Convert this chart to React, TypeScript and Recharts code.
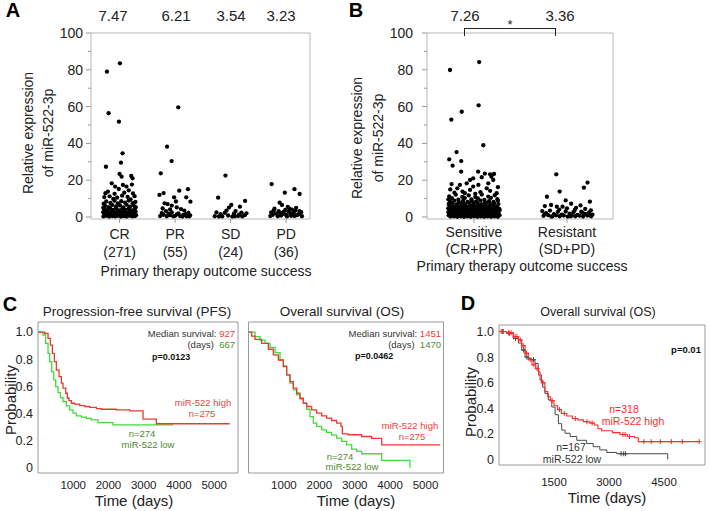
import React from 'react';
import { ScatterChart, Scatter, XAxis, YAxis, ReferenceArea, ComposedChart, Line } from 'recharts';

const FONT = "'Liberation Sans', Arial, sans-serif";

// ---------- Panel A data ----------
const groupsA = ['CR', 'PR', 'SD', 'PD'];
const countsA = ['(271)', '(55)', '(24)', '(36)'];
const meansA = ['7.47', '6.21', '3.54', '3.23'];
// [jitter (-1..1), relative expression]
const crPoints = [
  [-0.76, 79], [0.02, 83.5], [-0.66, 56.4], [-0.04, 51.8], [0.18, 34.6], [0.08, 29.5], [-0.82, 27.3],
  [0.7, 22.3], [0.0, 23.4], [0.12, 21.9], [0.78, 21], [-0.47, 18.3], [-0.27, 16.5], [0.41, 16.5], [0.2, 17.4], [0.74, 17.6],
  [-0.85, 12.9], [-0.7, 13.8], [-0.3, 12.6], [0.28, 13.2], [0.8, 12.8], [0.55, 14.5], [-0.05, 15.2],
  [-0.92, 10.8], [-0.6, 11.2], [-0.15, 10.5], [0.15, 11.6], [0.48, 10.9], [0.9, 11.3], [-0.38, 9.8], [0.66, 9.6],
  [-0.8, 8.4], [-0.55, 7.6], [-0.3, 8.8], [-0.1, 7.4], [0.1, 8.6], [0.33, 7.8], [0.55, 8.9], [0.78, 7.5], [0.95, 8.2], [-0.96, 7.2],
  [-0.88, 6.1], [-0.68, 5.4], [-0.45, 6.5], [-0.22, 5.7], [0.02, 6.3], [0.22, 5.2], [0.42, 6.6], [0.62, 5.6], [0.85, 6.2], [-0.98, 5.0], [0.97, 5.3],
  [-0.93, 4.3], [-0.75, 3.7], [-0.57, 4.6], [-0.38, 3.9], [-0.18, 4.4], [0.0, 3.6], [0.18, 4.7], [0.36, 3.8], [0.55, 4.5], [0.72, 3.6], [0.9, 4.2],
  [-0.98, 2.6], [-0.82, 3.1], [-0.64, 2.3], [-0.48, 2.9], [-0.3, 2.2], [-0.12, 3.0], [0.06, 2.4], [0.26, 3.1], [0.44, 2.2], [0.62, 2.9], [0.8, 2.4], [0.96, 2.9],
  [-0.9, 1.6], [-0.72, 1.1], [-0.55, 1.8], [-0.36, 1.2], [-0.2, 1.7], [-0.02, 1.0], [0.15, 1.6], [0.33, 1.1], [0.5, 1.8], [0.68, 1.2], [0.86, 1.6], [0.99, 1.0],
  [-0.97, 0.3], [-0.8, 0.6], [-0.62, 0.2], [-0.44, 0.5], [-0.27, 0.3], [-0.1, 0.6], [0.08, 0.2], [0.25, 0.5], [0.42, 0.2], [0.6, 0.6], [0.77, 0.3], [0.93, 0.5],
];
const prPoints = [
  [0.19, 59.6], [-0.48, 38.2], [-0.21, 30.4], [-0.86, 23.7], [0.25, 14.3], [0.77, 15.1], [-0.94, 12], [-0.69, 13], [0.67, 10.7],
  [0.92, 8.3], [-0.06, 10.7], [0.05, 8.4], [-0.63, 7.4], [-0.45, 7], [-0.2, 6.2], [0.35, 4.3], [-0.75, 4.6], [-0.55, 3.2],
  [-0.3, 4.1], [0.1, 5.2], [0.55, 3.5], [0.8, 2.2], [-0.9, 0.5], [-0.7, 1.2], [-0.5, 0.4], [-0.3, 1.0], [-0.1, 0.3],
  [0.1, 1.4], [0.3, 0.5], [0.5, 1.1], [0.7, 0.4], [0.9, 0.9], [-0.8, 2.1], [-0.2, 2.5], [0.2, 2.0], [0.45, 0.2], [0.65, 1.6],
  [-0.4, 1.8], [0.0, 0.6], [0.85, 0.3],
];
const sdPoints = [
  [-0.31, 22.5], [-0.75, 10.5], [0.87, 8.7], [0.04, 6.5], [0.56, 5.6], [-0.1, 5.1], [-0.85, 2.5], [-0.6, 1.5],
  [-0.35, 2.2], [-0.15, 0.8], [0.2, 1.8], [0.45, 0.5], [0.65, 2.4], [0.85, 1.0], [-0.95, 0.4], [0.3, 3.2],
  [-0.5, 0.3], [0.1, 0.2], [0.7, 0.3], [-0.7, 0.2], [0.95, 2.0], [0.5, 1.2], [-0.25, 3.5], [0.25, 0.4],
];
const pdPoints = [
  [-0.87, 17.9], [-0.08, 13.2], [0.5, 15.1], [0.81, 12.5], [-0.39, 7.8], [-0.25, 6.5], [0.1, 5.5], [0.35, 4.0], [0.6, 5.0],
  [0.8, 3.2], [-0.7, 4.5], [-0.9, 2.5], [-0.6, 1.8], [-0.45, 3.2], [-0.3, 0.8], [-0.15, 2.8], [0.0, 1.2], [0.15, 3.0],
  [0.3, 0.6], [0.45, 2.2], [0.65, 1.0], [0.9, 2.6], [-0.95, 0.5], [-0.8, 1.2], [-0.5, 0.4], [-0.2, 1.6], [0.05, 0.3],
  [0.25, 1.8], [0.5, 0.5], [0.75, 1.5], [0.95, 0.4], [-0.35, 2.2], [0.55, 3.5], [-0.75, 3.4], [0.2, 4.5], [-0.05, 3.8],
];

// ---------- Panel B data ----------
const groupsB = ['Sensitive', 'Resistant'];
const subB = ['(CR+PR)', '(SD+PD)'];
const meansB = ['7.26', '3.36'];
const sensitivePoints = [
  [-0.92, 79.9], [0.2, 84.2], [-0.87, 52.9], [-0.47, 57.2], [0.18, 60.7], [0.36, 39], [-0.67, 35.3], [-0.95, 31.3], [-0.49, 30.4], [-0.82, 27.9], [-0.49, 24.6], [0.16, 24.6],
  [0.42, 23.6], [0.62, 23.2], [0.77, 23.4], [0.67, 21.9], [0.74, 20.1], [0.3, 21.6], [-0.03, 21], [-0.15, 20.1], [-0.28, 18.3], [-0.86, 17.9], [-0.91, 15], [-0.64, 15.6],
  [-0.44, 13.8], [-0.35, 12.9], [-0.15, 14.7], [-0.03, 16.5], [0.17, 17.4], [0.55, 18.3], [0.87, 12.9], [0.49, 15.6], [-0.54, 17.4], [0.25, 13.5], [0.62, 14.2], [-0.75, 13.2], [0.05, 12.6], [0.92, 16.2],
  [-0.95, 11.2], [-0.7, 12.1], [-0.45, 10.9], [-0.2, 11.7], [0.05, 10.8], [0.3, 12.2], [0.55, 11.1], [0.8, 11.8],
  [-0.98, 9.6], [-0.85, 10.2], [-0.6, 9.4], [-0.35, 10.3], [-0.1, 9.5], [0.15, 10.1], [0.4, 9.3], [0.65, 10.4], [0.9, 9.7],
  [-0.92, 8.4], [-0.75, 8.9], [-0.58, 8.1], [-0.42, 8.7], [-0.25, 8.2], [-0.08, 8.8], [0.08, 8.3], [0.25, 8.9], [0.42, 8.0], [0.58, 8.6], [0.75, 8.2], [0.92, 8.8],
  [-0.97, 7.1], [-0.82, 7.5], [-0.66, 6.9], [-0.5, 7.4], [-0.34, 7.0], [-0.18, 7.6], [-0.02, 7.1], [0.14, 7.5], [0.3, 6.9], [0.46, 7.6], [0.62, 7.0], [0.78, 7.4], [0.94, 7.0],
  [-0.94, 6.0], [-0.8, 5.6], [-0.66, 6.2], [-0.52, 5.7], [-0.38, 6.1], [-0.24, 5.6], [-0.1, 6.2], [0.04, 5.7], [0.18, 6.1], [0.32, 5.6], [0.46, 6.2], [0.6, 5.7], [0.74, 6.1], [0.88, 5.6],
  [-0.99, 4.7], [-0.86, 4.9], [-0.72, 4.5], [-0.58, 4.9], [-0.44, 4.4], [-0.3, 4.8], [-0.16, 4.5], [-0.02, 4.9], [0.12, 4.4], [0.26, 4.8], [0.4, 4.5], [0.54, 4.9], [0.68, 4.4], [0.82, 4.8], [0.96, 4.5],
  [-0.93, 3.6], [-0.8, 3.9], [-0.67, 3.5], [-0.54, 3.8], [-0.41, 3.4], [-0.28, 3.8], [-0.15, 3.5], [-0.02, 3.9], [0.11, 3.4], [0.24, 3.8], [0.37, 3.5], [0.5, 3.9], [0.63, 3.4], [0.76, 3.8], [0.89, 3.5], [0.99, 3.8],
  [-0.98, 2.6], [-0.86, 2.9], [-0.73, 2.5], [-0.6, 2.8], [-0.47, 2.4], [-0.34, 2.8], [-0.21, 2.5], [-0.08, 2.9], [0.05, 2.4], [0.18, 2.8], [0.31, 2.5], [0.44, 2.9], [0.57, 2.4], [0.7, 2.8], [0.83, 2.5], [0.95, 2.9],
  [-0.92, 1.7], [-0.79, 1.9], [-0.66, 1.6], [-0.53, 1.9], [-0.4, 1.5], [-0.27, 1.9], [-0.14, 1.6], [-0.01, 1.9], [0.12, 1.5], [0.25, 1.9], [0.38, 1.6], [0.51, 1.9], [0.64, 1.5], [0.77, 1.9], [0.9, 1.6],
  [-0.97, 0.9], [-0.84, 1.1], [-0.71, 0.8], [-0.58, 1.1], [-0.45, 0.8], [-0.32, 1.1], [-0.19, 0.8], [-0.06, 1.1], [0.07, 0.8], [0.2, 1.1], [0.33, 0.8], [0.46, 1.1], [0.59, 0.8], [0.72, 1.1], [0.85, 0.8], [0.98, 1.0],
  [-0.9, 0.2], [-0.77, 0.3], [-0.64, 0.1], [-0.51, 0.3], [-0.38, 0.1], [-0.25, 0.3], [-0.12, 0.1], [0.01, 0.3], [0.14, 0.1], [0.27, 0.3], [0.4, 0.1], [0.53, 0.3], [0.66, 0.1], [0.79, 0.3], [0.92, 0.1],
];
const resistantPoints = [
  [-0.41, 23.2], [0.79, 18.7], [0.65, 15.9], [-0.28, 13.8], [-0.77, 11], [0.88, 8.3], [-0.05, 9], [0.16, 7.2], [0.52, 6.3],
  [-0.85, 5.9], [-0.61, 6.5], [-0.39, 5.6], [-0.17, 5.6], [0, 4.7], [0.35, 5.0], [0.7, 4.4], [0.92, 3.6],
  [-0.95, 3.2], [-0.8, 2.1], [-0.65, 3.5], [-0.5, 1.6], [-0.35, 2.8], [-0.2, 1.2], [-0.05, 3.0], [0.1, 1.8], [0.25, 2.6],
  [0.4, 1.1], [0.55, 2.9], [0.7, 1.7], [0.85, 2.5], [0.98, 1.3],
  [-0.9, 0.6], [-0.72, 1.0], [-0.56, 0.3], [-0.42, 0.9], [-0.28, 0.4], [-0.12, 0.8], [0.03, 0.2], [0.18, 0.9], [0.32, 0.4],
  [0.48, 0.7], [0.62, 0.2], [0.78, 0.8], [0.93, 0.4], [-0.86, 1.6], [0.3, 3.8], [-0.3, 4.0], [0.6, 2.2], [0.88, 0.9], [0.15, 0.4], [-0.6, 0.2],
];

// ---------- Panel C data (Kaplan-Meier, [days, survival]) ----------
const pfsHigh = [
  [0, 1.0], [190, 0.99], [285, 0.953], [351, 0.904], [408, 0.843], [464, 0.782], [521, 0.72], [597, 0.672], [663, 0.623],
  [710, 0.586], [786, 0.549], [833, 0.512], [880, 0.495], [947, 0.475], [1041, 0.468], [1183, 0.458], [1325, 0.451],
  [1467, 0.444], [1656, 0.436], [1798, 0.431], [2223, 0.426], [2601, 0.419], [2980, 0.358], [3358, 0.324], [5438, 0.324],
];
const pfsLow = [
  [0, 1.0], [143, 0.978], [218, 0.917], [285, 0.843], [332, 0.782], [389, 0.708], [445, 0.647], [502, 0.598], [568, 0.554],
  [635, 0.517], [710, 0.488], [805, 0.456], [899, 0.426], [994, 0.402], [1088, 0.382], [1230, 0.373], [1372, 0.363],
  [1514, 0.353], [1703, 0.333], [2129, 0.316], [3831, 0.316],
];
const osHigh = [
  [0, 1.0], [90, 0.97], [184, 0.946], [372, 0.917], [560, 0.873], [701, 0.831], [843, 0.794], [984, 0.745], [1078, 0.684],
  [1172, 0.635], [1266, 0.586], [1361, 0.549], [1455, 0.512], [1549, 0.475], [1643, 0.451], [1784, 0.426], [1926, 0.402],
  [2067, 0.382], [2208, 0.365], [2349, 0.348], [2491, 0.328], [2613, 0.304], [2651, 0.25], [2820, 0.243], [3197, 0.23],
  [3479, 0.216], [3762, 0.169], [5410, 0.169],
];
const osLow = [
  [0, 1.0], [184, 0.966], [325, 0.941], [466, 0.917], [607, 0.887], [749, 0.848], [890, 0.794], [984, 0.75], [1078, 0.684],
  [1172, 0.623], [1266, 0.574], [1361, 0.537], [1455, 0.505], [1549, 0.475], [1643, 0.431], [1737, 0.377], [1831, 0.328],
  [1926, 0.304], [2067, 0.279], [2208, 0.26], [2349, 0.24], [2491, 0.218], [2632, 0.194], [2773, 0.169], [2914, 0.137],
  [3056, 0.12], [3197, 0.103], [3762, 0.054], [4562, 0.0],
];

// ---------- Panel D data ([days, survival, censored]) ----------
const dHigh = [
  [0, 1, 0], [60, 1, 1], [120, 1, 1], [200, 0.99, 0], [260, 0.99, 1], [330, 0.99, 1], [390, 0.96, 0], [440, 0.96, 1], [490, 0.96, 1],
  [530, 0.935, 0], [580, 0.935, 1], [620, 0.89, 0], [660, 0.89, 1], [710, 0.83, 0], [750, 0.83, 1], [800, 0.78, 0], [850, 0.78, 1],
  [900, 0.74, 0], [950, 0.74, 1], [1000, 0.71, 0], [1040, 0.71, 1], [1080, 0.66, 0], [1160, 0.6, 0], [1200, 0.6, 1], [1250, 0.53, 0],
  [1330, 0.49, 0], [1400, 0.46, 0], [1450, 0.46, 1], [1500, 0.42, 0], [1600, 0.39, 0], [1650, 0.39, 1], [1700, 0.36, 0], [1780, 0.36, 1],
  [1850, 0.34, 0], [2000, 0.32, 0], [2080, 0.32, 1], [2150, 0.31, 0], [2300, 0.295, 0], [2400, 0.295, 1], [2480, 0.285, 0], [2540, 0.285, 1],
  [2600, 0.27, 0], [2700, 0.24, 0], [2800, 0.225, 0], [3100, 0.21, 0], [3300, 0.195, 0], [3380, 0.195, 1], [3440, 0.195, 1], [3500, 0.18, 0],
  [3560, 0.18, 1], [3700, 0.17, 0], [3800, 0.14, 0], [3950, 0.14, 1], [4150, 0.14, 1], [4400, 0.14, 1], [4700, 0.14, 1], [5000, 0.14, 1], [5460, 0.14, 1],
];
const dLow = [
  [0, 1, 0], [90, 1, 1], [210, 0.985, 0], [280, 0.985, 1], [390, 0.945, 0], [450, 0.945, 1], [530, 0.91, 0], [620, 0.855, 0], [670, 0.855, 1],
  [710, 0.8, 0], [760, 0.8, 1], [800, 0.79, 0], [890, 0.78, 0], [940, 0.78, 1], [980, 0.75, 0], [1070, 0.685, 0], [1120, 0.62, 0],
  [1190, 0.565, 0], [1255, 0.515, 0], [1345, 0.465, 0], [1440, 0.41, 0], [1530, 0.35, 0], [1620, 0.28, 0], [1710, 0.23, 0], [1800, 0.205, 0],
  [1940, 0.18, 0], [2120, 0.15, 0], [2390, 0.125, 0], [2570, 0.1, 0], [2750, 0.075, 0], [2940, 0.055, 0], [3210, 0.045, 0], [3330, 0.045, 1],
  [3400, 0.045, 1], [3450, 0.045, 1], [4600, 0.0, 0],
];

const xTicksC = [1000, 2000, 3000, 4000, 5000];
const xTicksD = [1500, 3000, 4500];
const probTicks = [0, 0.2, 0.4, 0.6, 0.8, 1.0];
const exprTicks = [0, 10, 20, 30, 40, 50, 60, 70, 80, 90, 100];

// ---------- helpers ----------
const SPREAD_A = 0.3;
const SPREAD_B = 0.28;
const buildScatter = (groups, spread) =>
  groups.flatMap((pts, gi) => pts.map(([j, v]) => ({ x: gi + 1 + j * spread, y: v })));
const toRows = (arr) => arr.map(([t, s, c]) => ({ t, s, c: c || 0 }));

const dataA = buildScatter([crPoints, prPoints, sdPoints, pdPoints], SPREAD_A);
const dataB = buildScatter([sensitivePoints, resistantPoints], SPREAD_B);

const Txt = ({ x, y, size = 14, color = '#222', weight = 400, anchor = 'middle', rotate = false, children }) => {
  const tx = anchor === 'middle' ? '-50%' : anchor === 'end' ? '-100%' : '0%';
  return (
    <div
      style={{
        position: 'absolute', left: x, top: y, fontSize: size, color, fontWeight: weight, fontFamily: FONT,
        lineHeight: 1, whiteSpace: 'nowrap', transform: `translate(${tx},-50%)${rotate ? ' rotate(-90deg)' : ''}`,
      }}
    >
      {children}
    </div>
  );
};

const dot = (p) => <circle key={`p${p.index}`} cx={p.cx} cy={p.cy} r={2.15} fill="#000" />;

const makeExprTick = (gap) => (p) => {
  const { x, y, payload, index } = p;
  const major = payload.value % 20 === 0;
  return (
    <g key={`yt${index}`}>
      <line x1={x - (major ? 5 : 3)} x2={x} y1={y} y2={y} stroke="#999" />
      {major && (
        <text x={x - gap} y={y} dy={5} textAnchor="end" fontSize={14} fontFamily={FONT} fill="#222">
          {payload.value}
        </text>
      )}
    </g>
  );
};

const makeCatTick = (labels, subs, d1, d2) => (p) => {
  const { x, y, payload, index } = p;
  const i = Math.round(payload.value) - 1;
  return (
    <g key={`xt${index}`}>
      <line x1={x} x2={x} y1={y} y2={y + 4} stroke="#999" />
      <text x={x} y={y + d1} textAnchor="middle" fontSize={14} fontFamily={FONT} fill="#222">{labels[i]}</text>
      <text x={x} y={y + d2} textAnchor="middle" fontSize={14} fontFamily={FONT} fill="#222">{subs[i]}</text>
    </g>
  );
};

const censorDot = (color) => (p) => {
  const { cx, cy, payload, index } = p;
  if (!payload || !payload.c) return <g key={`n${index}`} />;
  return (
    <path key={`c${index}`} d={`M${cx - 2.5},${cy}H${cx + 2.5}M${cx},${cy - 2.5}V${cy + 2.5}`} stroke={color} strokeWidth={1} fill="none" />
  );
};

const boxStroke = '#b8b8b8';
const kmBox = '#9a9a9a';
const RED = '#e83a32';
const GREEN = '#3fdc3a';
const GREEN_TXT = '#4f8a2c';
const RED_TXT = '#f0403a';

const ScatterPanel = ({ left, data, domain, ticks, width, yWidth, right, tick, yGap }) => (
  <div style={{ position: 'absolute', left, top: 0 }}>
    <ScatterChart width={width} height={300} margin={{ top: 33, right, bottom: 0, left: 0 }}>
      <XAxis type="number" dataKey="x" domain={domain} ticks={ticks} interval={0} tick={tick}
        tickLine={false} axisLine={false} tickSize={0} tickMargin={0} height={81} allowDataOverflow />
      <YAxis type="number" dataKey="y" domain={[-1.1, 100]} ticks={exprTicks} interval={0} tick={makeExprTick(yGap)}
        tickLine={false} axisLine={false} tickSize={0} tickMargin={0} width={yWidth} allowDataOverflow />
      <ReferenceArea x1={domain[0]} x2={domain[1]} y1={-1.1} y2={100} fill="none" fillOpacity={0} stroke={boxStroke} strokeWidth={1} ifOverflow="visible" />
      <Scatter data={data} shape={dot} isAnimationActive={false} />
    </ScatterChart>
  </div>
);

const KMPanel = ({ left, top, width, height, margin, yWidth, xDomain, yDomain, xTicks, showY, lines, yFont, xMargin, xHeight }) => (
  <div style={{ position: 'absolute', left, top }}>
    <ComposedChart width={width} height={height} margin={margin}>
      <XAxis type="number" dataKey="t" domain={xDomain} ticks={xTicks} interval={0} tickLine={false} axisLine={false}
        tickSize={0} tickMargin={xMargin} height={xHeight} allowDataOverflow
        tick={{ fontSize: 11.5, fill: '#222', fontFamily: FONT }} />
      <YAxis type="number" domain={yDomain} ticks={probTicks} interval={0} hide={!showY} width={yWidth}
        tickLine={false} axisLine={false} tickSize={0} tickMargin={5} allowDataOverflow
        tickFormatter={(v) => (v === 0 ? '0' : v.toFixed(1))}
        tick={{ fontSize: yFont, fill: '#222', fontFamily: FONT }} />
      <ReferenceArea x1={xDomain[0]} x2={xDomain[1]} y1={yDomain[0]} y2={yDomain[1]} fill="none" fillOpacity={0} stroke={kmBox} strokeWidth={1} ifOverflow="visible" />
      {lines.map((l, i) => (
        <Line key={i} data={l.data} dataKey="s" type="stepAfter" stroke={l.color} strokeWidth={l.width}
          dot={l.dot || false} activeDot={false} isAnimationActive={false} />
      ))}
    </ComposedChart>
  </div>
);

export default function App() {
  return (
    <div style={{ position: 'absolute', left: 0, top: 0, width: 710, height: 511, background: '#fff', overflow: 'hidden', fontFamily: FONT }}>
      {/* Panel A */}
      <ScatterPanel left={0} data={dataA} domain={[0.485, 4.43]} ticks={[1, 2, 3, 4]} width={330} yWidth={91} right={20}
        tick={makeCatTick(groupsA, countsA, 20, 38)} yGap={8} />
      <Txt x={13} y={10} size={20} weight={700} color="#000">A</Txt>
      {meansA.map((m, i) => (
        <Txt key={m} x={[113, 176, 231, 281][i]} y={15} size={15}>{m}</Txt>
      ))}
      <Txt x={28} y={133} size={14} rotate>Relative expression</Txt>
      <Txt x={48} y={133} size={14} rotate>of miR-522-3p</Txt>
      <Txt x={206} y={271} size={14}>Primary therapy outcome success</Txt>

      {/* Panel B */}
      <ScatterPanel left={336} data={dataB} domain={[0.495, 2.495]} ticks={[1, 2]} width={300} yWidth={91} right={23}
        tick={makeCatTick(groupsB, subB, 18, 35)} yGap={14} />
      <Txt x={356} y={10} size={20} weight={700} color="#000">B</Txt>
      {meansB.map((m, i) => (
        <Txt key={m} x={[465, 560][i]} y={15} size={15}>{m}</Txt>
      ))}
      <div style={{ position: 'absolute', left: 464, top: 28, width: 92, height: 8, borderTop: '1.5px solid #222', borderLeft: '1.5px solid #222', borderRight: '1.5px solid #222', boxSizing: 'border-box' }} />
      <Txt x={510} y={24} size={13}>*</Txt>
      <Txt x={357} y={138} size={14} rotate>Relative expression</Txt>
      <Txt x={378} y={138} size={14} rotate>of miR-522-3p</Txt>
      <Txt x={522} y={266} size={14}>Primary therapy outcome success</Txt>

      {/* Panel C - PFS */}
      <KMPanel left={0} top={300} width={250} height={200} margin={{ top: 22, right: 12, bottom: 0, left: 0 }} yWidth={38}
        xDomain={[0, 5674]} yDomain={[-0.039, 1.074]} xTicks={xTicksC} showY yFont={12.5} xMargin={8} xHeight={27}
        lines={[{ data: toRows(pfsLow), color: GREEN, width: 1.3 }, { data: toRows(pfsHigh), color: RED, width: 1.3 }]} />
      <Txt x={10} y={304} size={20} weight={700} color="#000">C</Txt>
      <Txt x={137} y={312} size={13.5}>Progression-free survival (PFS)</Txt>
      <Txt x={10} y={400} size={15} rotate>Probability</Txt>
      <Txt x={235} y={334} size={9.5} anchor="end" color="#333">Median survival: <span style={{ color: RED_TXT }}>927</span></Txt>
      <Txt x={235} y={345} size={9.5} anchor="end" color="#333">(days)&nbsp;&nbsp;<span style={{ color: GREEN_TXT }}>667</span></Txt>
      <Txt x={152} y={357} size={9} anchor="start" weight={700} color="#111">p=0.0123</Txt>
      <Txt x={203} y={403} size={9.5} color={RED_TXT}>miR-522 high</Txt>
      <Txt x={202} y={414} size={9.5} color={RED_TXT}>n=275</Txt>
      <Txt x={142} y={434} size={9.5} color={GREEN_TXT}>n=274</Txt>
      <Txt x={148} y={444.5} size={9.5} color={GREEN_TXT}>miR-522 low</Txt>
      <Txt x={134} y={500} size={15}>Time (days)</Txt>

      {/* Panel C - OS */}
      <KMPanel left={240} top={300} width={215} height={200} margin={{ top: 22, right: 11.5, bottom: 0, left: 8.5 }} yWidth={0}
        xDomain={[0, 5508]} yDomain={[-0.039, 1.074]} xTicks={xTicksC} showY={false} yFont={12} xMargin={8} xHeight={27}
        lines={[{ data: toRows(osLow), color: GREEN, width: 1.3 }, { data: toRows(osHigh), color: RED, width: 1.3 }]} />
      <Txt x={342} y={312} size={13.5}>Overall survival (OS)</Txt>
      <Txt x={441} y={334} size={9.5} anchor="end" color="#333">Median survival: <span style={{ color: RED_TXT }}>1451</span></Txt>
      <Txt x={441} y={345} size={9.5} anchor="end" color="#333">(days)&nbsp;&nbsp;<span style={{ color: GREEN_TXT }}>1470</span></Txt>
      <Txt x={355} y={356} size={9} anchor="start" weight={700} color="#111">p=0.0462</Txt>
      <Txt x={410} y={426} size={9.5} color={RED_TXT}>miR-522 high</Txt>
      <Txt x={412} y={437} size={9.5} color={RED_TXT}>n=275</Txt>
      <Txt x={340} y={457} size={9.5} color={GREEN_TXT}>n=274</Txt>
      <Txt x={352} y={466.5} size={9.5} color={GREEN_TXT}>miR-522 low</Txt>
      <Txt x={356} y={500} size={15}>Time (days)</Txt>

      {/* Panel D */}
      <KMPanel left={450} top={300} width={260} height={200} margin={{ top: 25, right: 5, bottom: 0, left: 0 }} yWidth={49}
        xDomain={[0, 5618]} yDomain={[-0.043, 1.051]} xTicks={xTicksD} showY yFont={12.5} xMargin={13} xHeight={35}
        lines={[
          { data: toRows(dLow), color: '#4a4a4a', width: 1, dot: censorDot('#4a4a4a') },
          { data: toRows(dHigh), color: '#ff2a2a', width: 1.1, dot: censorDot('#ff2a2a') },
        ]} />
      <Txt x={468} y={303} size={20} weight={700} color="#000">D</Txt>
      <Txt x={598} y={312} size={12.5}>Overall survival (OS)</Txt>
      <Txt x={470} y={402} size={15} rotate>Probability</Txt>
      <Txt x={686} y={350} size={9.5} weight={700} color="#111">p=0.01</Txt>
      <Txt x={624} y={409} size={10.5} color="#ff2a2a">n=318</Txt>
      <Txt x={633} y={421} size={10.5} color="#ff2a2a">miR-522 high</Txt>
      <Txt x={571} y={447} size={10.5} color="#333">n=167</Txt>
      <Txt x={572} y={459} size={10.5} color="#333">miR-522 low</Txt>
      <Txt x={607} y={497} size={15}>Time (days)</Txt>
    </div>
  );
}
